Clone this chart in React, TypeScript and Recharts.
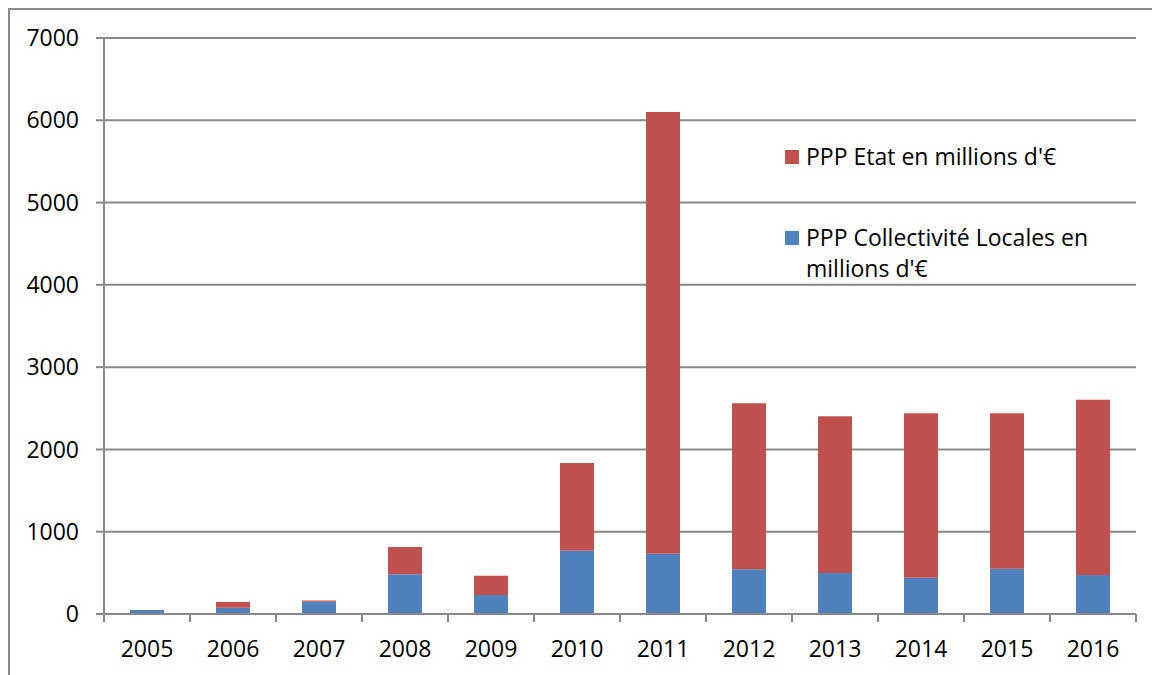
import React from 'react';

import { Bar, BarChart, CartesianGrid, Legend, XAxis, YAxis } from 'recharts';

const years = ['2005', '2006', '2007', '2008', '2009', '2010', '2011', '2012', '2013', '2014', '2015', '2016'];
const collectivites = [50, 75, 150, 482, 231, 769, 733, 543, 498, 441, 550, 474];
const etat = [0, 70, 15, 332, 234, 1066, 5367, 2017, 1904, 1998, 1889, 2130];
const yTicks = [0, 1000, 2000, 3000, 4000, 5000, 6000, 7000];

const ETAT_NAME = "PPP Etat en millions d'€";
const COLL_NAME = "PPP Collectivité Locales en millions d'€";

const BLUE = '#4f81bd';
const RED = '#c0504d';
const AXIS = '#898989';
const FONT = '"Open Sans", Lato, sans-serif';
const FONT_SIZE = 23;

const CHART_W = 1142;
const CHART_H = 665;
const MARGIN = { top: 28, right: 16, bottom: 0, left: 0 };
const Y_AXIS_W = 94;
const BAND = (CHART_W - MARGIN.left - MARGIN.right - Y_AXIS_W) / years.length;

const data = years.map((year, i) => ({ year, collectivites: collectivites[i], etat: etat[i] }));

// legend lists Etat first, like the original
const legendItems = [
  { name: ETAT_NAME, color: RED },
  { name: COLL_NAME, color: BLUE },
];

// Excel puts the x tick marks between categories, not under them
const YearTick = (props: any) => {
  const { x, y, payload, index } = props;
  const half = BAND / 2;
  return (
    <g>
      <line x1={x - half} x2={x - half} y1={y} y2={y + 8} stroke={AXIS} strokeWidth={2} />
      {index === years.length - 1 && (
        <line x1={x + half} x2={x + half} y1={y} y2={y + 8} stroke={AXIS} strokeWidth={2} />
      )}
      <text x={x} y={y + 42.5} textAnchor="middle" fill="#000" fontSize={FONT_SIZE} fontFamily={FONT}>
        {payload.value}
      </text>
    </g>
  );
};

const renderLegend = () => (
  <div style={{ fontFamily: FONT, fontSize: FONT_SIZE, lineHeight: '31.5px', color: '#000' }}>
    {legendItems.map((item, i) => (
      <div key={item.name} style={{ display: 'flex', alignItems: 'flex-start', marginTop: i ? 49 : 0 }}>
        <span style={{ width: 14, height: 14, background: item.color, marginTop: 9, marginRight: 7, flex: 'none' }} />
        <span style={{ width: 335 }}>{item.name}</span>
      </div>
    ))}
  </div>
);

export default function App() {
  return (
    <div
      style={{
        position: 'fixed',
        left: 8,
        top: 8,
        width: 1144,
        height: 667,
        boxSizing: 'border-box',
        borderTop: `2px solid ${AXIS}`,
        borderLeft: `2px solid ${AXIS}`,
        background: '#fff',
      }}
    >
      <BarChart width={CHART_W} height={CHART_H} data={data} margin={MARGIN} barSize={34}>
        <CartesianGrid vertical={false} stroke={AXIS} strokeWidth={2} />
        <XAxis
          dataKey="year"
          height={61}
          interval={0}
          tickSize={0}
          tickMargin={0}
          tickLine={false}
          axisLine={{ stroke: AXIS, strokeWidth: 2 }}
          tick={<YearTick />}
        />
        <YAxis
          width={Y_AXIS_W}
          domain={[0, 7000]}
          ticks={yTicks}
          interval={0}
          tickSize={8}
          tickMargin={17}
          axisLine={{ stroke: AXIS, strokeWidth: 2 }}
          tickLine={{ stroke: AXIS, strokeWidth: 2 }}
          tick={{ fill: '#000', fontSize: FONT_SIZE, fontFamily: FONT }}
        />
        <Legend
          layout="vertical"
          align="center"
          verticalAlign="middle"
          wrapperStyle={{ left: 775, top: 131, width: 360 }}
          content={renderLegend}
        />
        <Bar dataKey="collectivites" name={COLL_NAME} stackId="a" fill={BLUE} isAnimationActive={false} />
        <Bar dataKey="etat" name={ETAT_NAME} stackId="a" fill={RED} isAnimationActive={false} />
      </BarChart>
    </div>
  );
}
